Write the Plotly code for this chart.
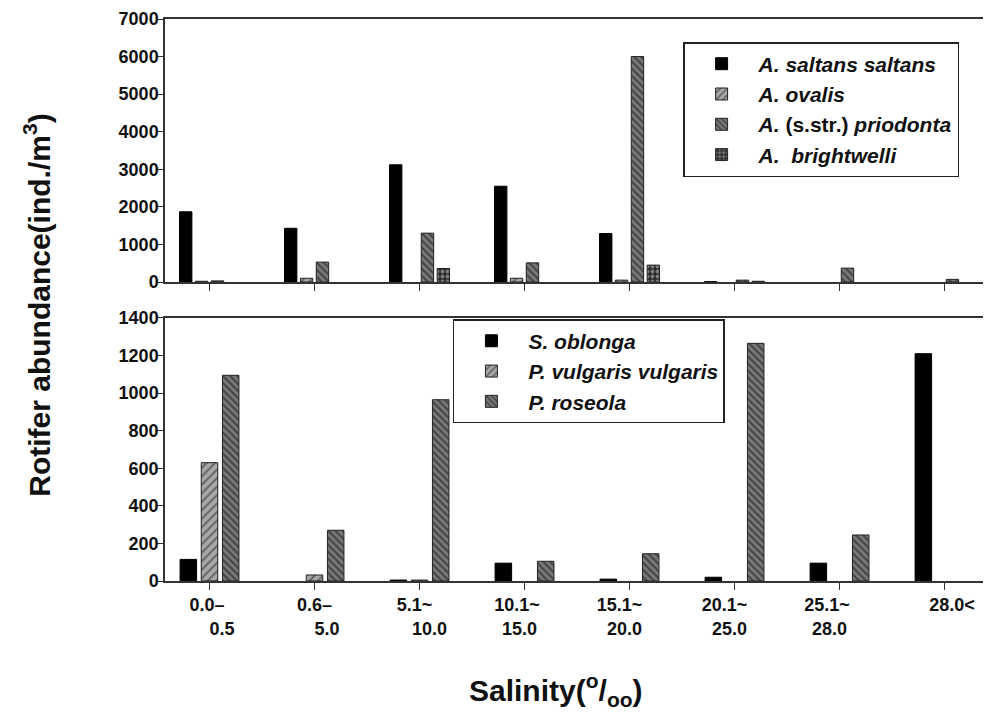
import plotly.graph_objects as go
from plotly.subplots import make_subplots

# ---------------- data ----------------
categories = ["0.0-0.5", "0.6-5.0", "5.1-10.0", "10.1-15.0",
              "15.1-20.0", "20.1-25.0", "25.1-28.0", "28.0<"]
tick_line1 = ["0.0–", "0.6–", "5.1~", "10.1~", "15.1~", "20.1~", "25.1~", "28.0<"]
tick_line2 = ["0.5", "5.0", "10.0", "15.0", "20.0", "25.0", "28.0", ""]

# upper panel (ind./m3)
a_saltans = [1870, 1430, 3120, 2550, 1290, 10, 0, 0]
a_ovalis = [20, 100, 0, 100, 50, 0, 0, 0]
a_priodonta = [30, 530, 1300, 510, 6000, 50, 370, 70]
a_brightwelli = [0, 0, 360, 0, 450, 20, 0, 0]

# lower panel (ind./m3)
s_oblonga = [115, 0, 5, 95, 10, 20, 95, 1210]
p_vulgaris = [630, 32, 5, 0, 0, 0, 0, 0]
p_roseola = [1095, 270, 965, 105, 145, 1265, 245, 0]

top_names = ["<i>A. saltans saltans</i>", "<i>A. ovalis</i>",
             "<i>A.</i> (s.str.) <i>priodonta</i>", "<i>A.  brightwelli</i>"]
bot_names = ["<i>S. oblonga</i>", "<i>P. vulgaris vulgaris</i>", "<i>P. roseola</i>"]


def nz(vals):
    # absent bars: do not draw a zero-height outline
    return [v if v else None for v in vals]


# ---------------- styling ----------------
NB = "\u00a0"
# (trailing pad line1, leading pad line2, trailing pad line2, leading pad line1)
pads = [(1, 5, 0, 0), (0, 5, 0, 0), (2, 4, 0, 0), (3, 0, 2, 0),
        (4, 0, 2, 0), (4, 0, 2, 0), (5, 0, 4, 0), (0, 0, 0, 3)]
tick_text = []
for l1, l2, (t1, lead2, t2, lead1) in zip(tick_line1, tick_line2, pads):
    s = NB * lead1 + l1 + NB * t1
    if l2:
        s += "<br>" + NB * lead2 + l2 + NB * t2
    tick_text.append(s)

FONT = "Liberation Sans, Arial, Helvetica, sans-serif"
LINE = "#333333"

solid = dict(color="#000000", line=dict(color="#000000", width=1))
fwd_hatch = dict(color="#a8a8a8",
                 pattern=dict(shape="/", fgcolor="#222222", bgcolor="#a8a8a8",
                              size=6, solidity=0.35),
                 line=dict(color="#222222", width=1))
back_hatch = dict(color="#6a6a6a",
                  pattern=dict(shape="\\", fgcolor="#111111", bgcolor="#7a7a7a",
                               size=5, solidity=0.45),
                  line=dict(color="#222222", width=1))
dots = dict(color="#333333",
            pattern=dict(shape=".", fgcolor="#d0d0d0", bgcolor="#2a2a2a",
                         size=5, solidity=0.45),
            line=dict(color="#222222", width=1))

fig = make_subplots(rows=2, cols=1, shared_xaxes=False, vertical_spacing=0.064)

for name, vals, mk in zip(top_names,
                          [a_saltans, a_ovalis, a_priodonta, a_brightwelli],
                          [solid, fwd_hatch, back_hatch, dots]):
    fig.add_trace(go.Bar(x=categories, y=nz(vals), name=name, marker=mk,
                         legend="legend"), row=1, col=1)

for name, vals, mk in zip(bot_names,
                          [s_oblonga, p_vulgaris, p_roseola],
                          [solid, fwd_hatch, back_hatch]):
    fig.add_trace(go.Bar(x=categories, y=nz(vals), name=name, marker=mk,
                         legend="legend2"), row=2, col=1)

tickfont = dict(family=FONT, size=18, color="#111111", weight="bold")

xcommon = dict(type="category", categoryorder="array", categoryarray=categories,
               range=[-0.424, 7.433], showline=True, linecolor=LINE, linewidth=1.5,
               mirror=True, ticks="outside", ticklen=7, tickcolor=LINE, tickwidth=1.2,
               showgrid=False, zeroline=False)
fig.update_xaxes(**xcommon)
fig.update_xaxes(showticklabels=False, row=1, col=1)
fig.update_xaxes(tickvals=categories, ticktext=tick_text, tickfont=tickfont,
                 tickangle=0, row=2, col=1)

ycommon = dict(showline=True, linecolor=LINE, linewidth=1.5, ticks="outside",
               ticklen=6, tickcolor=LINE, tickwidth=1.2, showgrid=False,
               zeroline=False, tickfont=tickfont, ticklabelstandoff=-5)
fig.update_yaxes(range=[0, 7000], dtick=1000, tick0=0, **ycommon, row=1, col=1)
fig.update_yaxes(range=[0, 1400], dtick=200, tick0=0, **ycommon, row=2, col=1)

fig.update_layout(yaxis=dict(domain=[0.532, 1.0]), yaxis2=dict(domain=[0.0, 0.468]))

legend_common = dict(font=dict(family=FONT, size=21, color="#111111", weight="bold"),
                     bordercolor="#222222", borderwidth=1.5, bgcolor="white",
                     itemwidth=64, xanchor="left", yanchor="top",
                     tracegroupgap=0, itemclick=False)

fig.update_layout(
    width=983, height=706,
    margin=dict(l=157, r=1, t=11, b=133),
    paper_bgcolor="white", plot_bgcolor="white",
    barmode="group", bargap=0.395, bargroupgap=0.22,
    font=dict(family=FONT, color="#111111"),
    legend=dict(x=0.628, y=0.959, **legend_common),
    legend2=dict(x=0.349, y=0.466, **legend_common),
    annotations=[
        dict(text="Rotifer abundance(ind./m<sup>3</sup>)", xref="paper", yref="paper",
             x=-0.155, y=0.49, textangle=-90, showarrow=False,
             xanchor="center", yanchor="middle",
             font=dict(family=FONT, size=30, color="#111111", weight="bold")),
        dict(text="Salinity(<sup>o</sup>/<sub>oo</sub>)", xref="paper", yref="paper",
             x=0.474, y=-0.194, showarrow=False, xanchor="center", yanchor="middle",
             font=dict(family=FONT, size=30, color="#111111", weight="bold")),
    ],
)

fig.write_html("out.html")
